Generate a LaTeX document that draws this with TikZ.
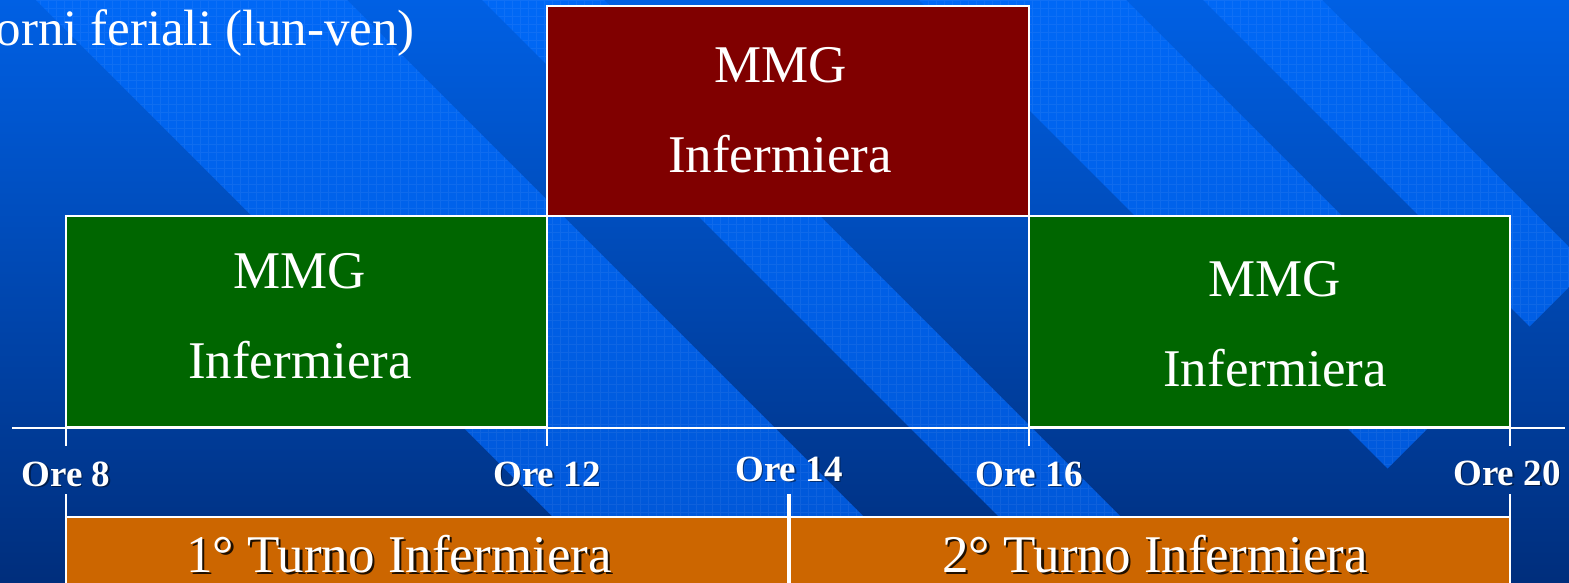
\documentclass[tikz,border=0pt]{standalone}
\usepackage{fontspec}
\setmainfont{Liberation Serif}
\definecolor{bgtop}{RGB}{0,96,228}
\definecolor{bgmid}{RGB}{0,80,198}
\definecolor{bgbot}{RGB}{0,46,124}
\definecolor{bandtop}{RGB}{0,104,246}
\definecolor{bandbot}{RGB}{0,86,214}
\definecolor{mmgred}{RGB}{128,0,0}
\definecolor{mmggreen}{RGB}{0,102,0}
\definecolor{turno}{RGB}{204,102,0}
\begin{document}
\begin{tikzpicture}[x=1pt,y=-1pt,
  box/.style={draw=white, line width=2pt, inner sep=0pt, outer sep=0pt, anchor=north west},
  boxtxt/.style={text=white, font=\fontsize{53}{60}\selectfont, anchor=base, inner sep=0pt},
  hour/.style={text=white, font=\fontsize{37}{40}\selectfont\bfseries, anchor=base, inner sep=0pt},
  hourshadow/.style={hour, text=black, opacity=0.45},
  txtshadow/.style={boxtxt, text=black, opacity=0.85},
  wline/.style={draw=white, line width=2pt},
]
\useasboundingbox (0,0) rectangle (1569,582);
\clip (0,0) rectangle (1569,582);
% background
\shade[top color=bgtop, middle color=bgmid, bottom color=bgbot] (0,0) rectangle (1569,582);
\begin{scope}
  \clip (26,-10) -- (337,-10) -- (1101.5,754.5) -- (946,910) -- cycle
        (472,-10) -- (594,-10) -- (1230,626) -- (1169,687) -- cycle
        (909,-10) -- (1116,-10) -- (1491,365) -- (1387.5,468.5) -- cycle
        (1193,-10) -- (1312,-10) -- (1589,267) -- (1529.5,326.5) -- cycle;
  \shade[top color=bandtop, bottom color=bandbot] (0,0) rectangle (1569,582);
  \draw[white, opacity=0.06, line width=0.7pt, step=8pt] (0,0) grid (1569,582);
\end{scope}

% title
\node[text=white, font=\fontsize{51}{60}\selectfont, anchor=base east, inner sep=0pt] (title) at (415,45) {orni feriali (lun-ven)};

% boxes
\node[box, fill=mmgred, minimum width=482pt, minimum height=210pt] (red) at (547,6) {};
\node[box, fill=mmggreen, minimum width=481pt, minimum height=211pt] (gl) at (66,216) {};
\node[box, fill=mmggreen, minimum width=481pt, minimum height=211pt] (gr) at (1029,216) {};
\node[box, fill=turno, minimum width=723pt, minimum height=90pt] (ol) at (66,517) {};
\node[box, fill=turno, minimum width=721pt, minimum height=90pt] (or) at (789,517) {};

% box texts
\node[boxtxt] (redA) at (781,82) {MMG};
\node[boxtxt] (redB) at (780,172) {Infermiera};
\node[boxtxt] (glA) at (300,288) {MMG};
\node[boxtxt] (glB) at (300,378) {Infermiera};
\node[boxtxt] (grA) at (1275,296) {MMG};
\node[boxtxt] (grB) at (1275,386) {Infermiera};

% axis
\coordinate (axL) at (12,428);
\coordinate (axR) at (1565,428);
\draw[wline] (axL) -- (axR);
\draw[wline] (gl.south west) -- ++(0,19);
\draw[wline] (gl.south east) -- ++(0,19);
\draw[wline] (gr.south west) -- ++(0,19);
\draw[wline] (gr.south east) -- ++(0,19);
\draw[wline] (ol.north west) -- ++(0,-23);
\draw[wline] (or.north east) -- ++(0,-23);
\coordinate (t14top) at (789,494);
\coordinate (t14bot) at (789,600);
\draw[draw=white, line width=4.5pt] (t14top) -- (t14bot);

% hour labels
\node[hourshadow] (h8s) at (67.5,487.5) {Ore 8};
\node[hour] (h8) at (66,486) {Ore 8};
\node[hourshadow] (h12s) at (548.5,487.5) {Ore 12};
\node[hour] (h12) at (547,486) {Ore 12};
\node[hourshadow] (h14s) at (790.5,482.5) {Ore 14};
\node[hour] (h14) at (789,481) {Ore 14};
\node[hourshadow] (h16s) at (1030.5,487.5) {Ore 16};
\node[hour] (h16) at (1029,486) {Ore 16};
\node[hourshadow] (h20s) at (1508.5,486.5) {Ore 20};
\node[hour] (h20) at (1507,485) {Ore 20};

% shift texts
\node[txtshadow] (t1s) at (401.5,574.5) {1° Turno Infermiera};
\node[boxtxt] (t1) at (399,572) {1° Turno Infermiera};
\node[txtshadow] (t2s) at (1157.5,574.5) {2° Turno Infermiera};
\node[boxtxt] (t2) at (1155,572) {2° Turno Infermiera};
\end{tikzpicture}
\end{document}
